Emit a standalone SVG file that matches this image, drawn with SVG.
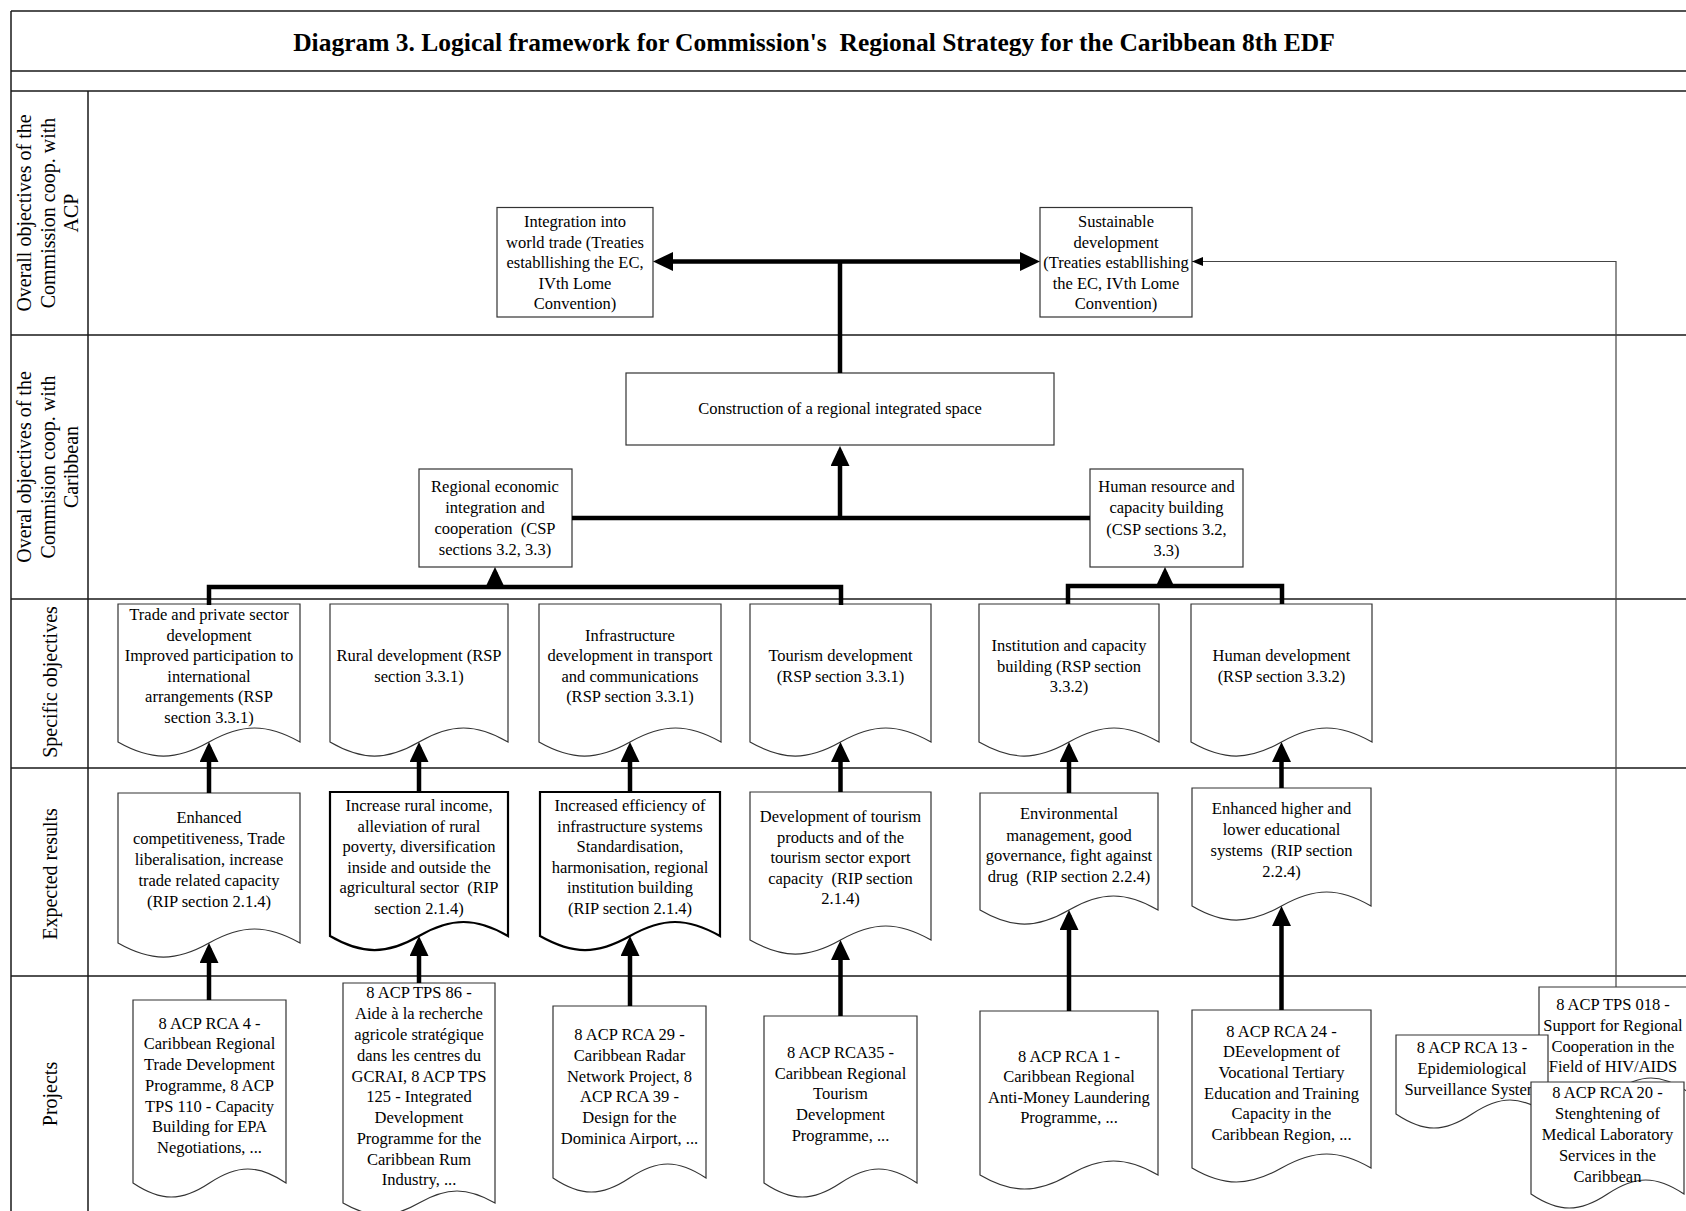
<svg xmlns="http://www.w3.org/2000/svg" width="1686" height="1211" viewBox="0 0 1686 1211">
<style>
.grid{stroke:#1a1a1a;stroke-width:1.5;fill:none}
.box{fill:#fff;stroke:#333;stroke-width:1.2}
.bold{stroke:#000;stroke-width:2.2}
.t{font-family:'Liberation Serif','Times New Roman',serif;font-size:16.5px;text-anchor:middle;fill:#000}
.lbl{font-size:20px}
.title{font-size:25.5px;font-weight:bold}
.thick{stroke:#000;stroke-width:4.5;fill:none;stroke-linejoin:miter}
.thin{stroke:#444;stroke-width:1.2;fill:none}
</style>
<defs>
<marker id="ah" markerUnits="userSpaceOnUse" markerWidth="20" markerHeight="19" viewBox="0 0 20 19" refX="15" refY="9.5" orient="auto-start-reverse"><path d="M0,0L20,9.5L0,19Z" fill="#000"/></marker>
<marker id="ahs" markerUnits="userSpaceOnUse" markerWidth="11" markerHeight="9" viewBox="0 0 11 9" refX="11" refY="4.5" orient="auto"><path d="M0,0L11,4.5L0,9Z" fill="#000"/></marker>
</defs>
<rect width="1686" height="1211" fill="#fff"/>
<g id="grid">
<path class="grid" d="M11,11H1686M11,71H1686M11,91H1686M11,335H1686M11,599H1686M11,768H1686M11,976H1686M11,11V1211M88,91V1211"/>
</g>
<g id="title"><text class="t title" x="814" y="51">Diagram 3. Logical framework for Commission's&#160; Regional Strategy for the Caribbean 8th EDF</text></g>
<g id="row-labels">
<text class="t lbl" transform="translate(0,213) rotate(-90)"><tspan x="0" y="31">Overall objectives of the</tspan><tspan x="0" y="54.5">Commission coop. with</tspan><tspan x="0" y="78">ACP</tspan></text>
<text class="t lbl" transform="translate(0,467) rotate(-90)"><tspan x="0" y="31">Overal objectives of the</tspan><tspan x="0" y="54.5">Commision coop. with</tspan><tspan x="0" y="78">Caribbean</tspan></text>
<text class="t lbl" transform="translate(0,682) rotate(-90)" x="0" y="56.5">Specific objectives</text>
<text class="t lbl" transform="translate(0,874) rotate(-90)" x="0" y="56.5">Expected results</text>
<text class="t lbl" transform="translate(0,1094) rotate(-90)" x="0" y="56.5">Projects</text>
</g>
<g id="n-integration"><rect class="box" x="497" y="207.5" width="156" height="109.5"/>
<text class="t"><tspan x="575" y="227">Integration into</tspan><tspan x="575" y="248">world trade (Treaties</tspan><tspan x="575" y="268">establlishing the EC,</tspan><tspan x="575" y="288.5">IVth Lome</tspan><tspan x="575" y="309">Convention)</tspan></text></g>
<g id="n-sustainable"><rect class="box" x="1040" y="207.5" width="152" height="109.5"/>
<text class="t"><tspan x="1116" y="227">Sustainable</tspan><tspan x="1116" y="248">development</tspan><tspan x="1116" y="268">(Treaties establlishing</tspan><tspan x="1116" y="288.5">the EC, IVth Lome</tspan><tspan x="1116" y="309">Convention)</tspan></text></g>
<g id="n-construction"><rect class="box" x="626" y="373" width="428" height="72"/>
<text class="t" x="840" y="414">Construction of a regional integrated space</text></g>
<g id="n-regional"><rect class="box" x="419" y="469" width="153" height="98"/>
<text class="t"><tspan x="495" y="492">Regional economic</tspan><tspan x="495" y="513">integration and</tspan><tspan x="495" y="534">cooperation&#160; (CSP</tspan><tspan x="495" y="555">sections 3.2, 3.3)</tspan></text></g>
<g id="n-human-resource"><rect class="box" x="1090" y="469" width="153" height="98"/>
<text class="t"><tspan x="1166.5" y="492">Human resource and</tspan><tspan x="1166.5" y="513">capacity building</tspan><tspan x="1166.5" y="535">(CSP sections 3.2,</tspan><tspan x="1166.5" y="556">3.3)</tspan></text></g>
<g id="s-trade"><path class="box" d="M118,604H300V742C267,723.3 242,723.3 209,742C176,760.7 151,760.7 118,742Z"/>
<text class="t"><tspan x="209" y="620">Trade and private sector</tspan><tspan x="209" y="640.5">development</tspan><tspan x="209" y="661">Improved participation to</tspan><tspan x="209" y="681.5">international</tspan><tspan x="209" y="702">arrangements (RSP</tspan><tspan x="209" y="722.5">section 3.3.1)</tspan></text></g>
<g id="s-rural"><path class="box" d="M330,604H508V742C476,723.3 451,723.3 419,742C387,760.7 362,760.7 330,742Z"/>
<text class="t"><tspan x="419" y="661">Rural development (RSP</tspan><tspan x="419" y="681.5">section 3.3.1)</tspan></text></g>
<g id="s-infra"><path class="box" d="M539,604H721V742C688,723.3 663,723.3 630,742C597,760.7 572,760.7 539,742Z"/>
<text class="t"><tspan x="630" y="640.5">Infrastructure</tspan><tspan x="630" y="661">development in transport</tspan><tspan x="630" y="681.5">and communications</tspan><tspan x="630" y="702">(RSP section 3.3.1)</tspan></text></g>
<g id="s-tourism"><path class="box" d="M750,604H931V742C898,723.3 873.5,723.3 840.5,742C807.5,760.7 783,760.7 750,742Z"/>
<text class="t"><tspan x="840.5" y="661">Tourism development</tspan><tspan x="840.5" y="681.5">(RSP section 3.3.1)</tspan></text></g>
<g id="s-institution"><path class="box" d="M979,604H1159V742C1126,723.3 1102,723.3 1069,742C1036,760.7 1012,760.7 979,742Z"/>
<text class="t"><tspan x="1069" y="651">Institution and capacity</tspan><tspan x="1069" y="671.5">building (RSP section</tspan><tspan x="1069" y="692">3.3.2)</tspan></text></g>
<g id="s-human"><path class="box" d="M1191,604H1372V742C1339,723.3 1314.5,723.3 1281.5,742C1248.5,760.7 1224,760.7 1191,742Z"/>
<text class="t"><tspan x="1281.5" y="661">Human development</tspan><tspan x="1281.5" y="681.5">(RSP section 3.3.2)</tspan></text></g>
<g id="r-competitiveness"><path class="box" d="M118,793H300V943C267,924.3 242,924.3 209,943C176,961.7 151,961.7 118,943Z"/>
<text class="t"><tspan x="209" y="823">Enhanced</tspan><tspan x="209" y="844">competitiveness, Trade</tspan><tspan x="209" y="865">liberalisation, increase</tspan><tspan x="209" y="885.5">trade related capacity</tspan><tspan x="209" y="906.5">(RIP section 2.1.4)</tspan></text></g>
<g id="r-rural"><path class="box bold" d="M330,792H508V936C476,917.3 451,917.3 419,936C387,954.7 362,954.7 330,936Z"/>
<text class="t"><tspan x="419" y="811">Increase rural income,</tspan><tspan x="419" y="831.5">alleviation of rural</tspan><tspan x="419" y="852">poverty, diversification</tspan><tspan x="419" y="872.5">inside and outside the</tspan><tspan x="419" y="893">agricultural sector&#160; (RIP</tspan><tspan x="419" y="914">section 2.1.4)</tspan></text></g>
<g id="r-infra"><path class="box bold" d="M540,792H720V936C687,917.3 663,917.3 630,936C597,954.7 573,954.7 540,936Z"/>
<text class="t"><tspan x="630" y="811">Increased efficiency of</tspan><tspan x="630" y="831.5">infrastructure systems</tspan><tspan x="630" y="852">Standardisation,</tspan><tspan x="630" y="872.5">harmonisation, regional</tspan><tspan x="630" y="893">institution building</tspan><tspan x="630" y="914">(RIP section 2.1.4)</tspan></text></g>
<g id="r-tourism"><path class="box" d="M750,792H931V940C898,921.3 873.5,921.3 840.5,940C807.5,958.7 783,958.7 750,940Z"/>
<text class="t"><tspan x="840.5" y="822">Development of tourism</tspan><tspan x="840.5" y="842.5">products and of the</tspan><tspan x="840.5" y="863">tourism sector export</tspan><tspan x="840.5" y="883.5">capacity&#160; (RIP section</tspan><tspan x="840.5" y="904">2.1.4)</tspan></text></g>
<g id="r-environment"><path class="box" d="M980,793H1158V910C1126,891.3 1101,891.3 1069,910C1037,928.7 1012,928.7 980,910Z"/>
<text class="t"><tspan x="1069" y="819">Environmental</tspan><tspan x="1069" y="840.5">management, good</tspan><tspan x="1069" y="861">governance, fight against</tspan><tspan x="1069" y="881.5">drug&#160; (RIP section 2.2.4)</tspan></text></g>
<g id="r-education"><path class="box" d="M1192,788H1371V906C1339,887.3 1314.5,887.3 1281.5,906C1248.5,924.7 1224,924.7 1192,906Z"/>
<text class="t"><tspan x="1281.5" y="814">Enhanced higher and</tspan><tspan x="1281.5" y="835">lower educational</tspan><tspan x="1281.5" y="856">systems&#160; (RIP section</tspan><tspan x="1281.5" y="877">2.2.4)</tspan></text></g>
<g id="p-rca4"><path class="box" d="M133,1000H286V1183C258,1164.3 237.5,1164.3 209.5,1183C181.5,1201.7 161,1201.7 133,1183Z"/>
<text class="t"><tspan x="209.5" y="1028.5">8 ACP RCA 4 -</tspan><tspan x="209.5" y="1049">Caribbean Regional</tspan><tspan x="209.5" y="1070">Trade Development</tspan><tspan x="209.5" y="1090.5">Programme, 8 ACP</tspan><tspan x="209.5" y="1111.5">TPS 110 - Capacity</tspan><tspan x="209.5" y="1132">Building for EPA</tspan><tspan x="209.5" y="1153">Negotiations, ...</tspan></text></g>
<g id="p-tps86"><path class="box" d="M343,983H495V1203C467,1187 447,1187 419,1203C391,1219 371,1219 343,1203Z"/>
<text class="t"><tspan x="419" y="998">8 ACP TPS 86 -</tspan><tspan x="419" y="1019">Aide à la recherche</tspan><tspan x="419" y="1040">agricole stratégique</tspan><tspan x="419" y="1061">dans les centres du</tspan><tspan x="419" y="1081.5">GCRAI, 8 ACP TPS</tspan><tspan x="419" y="1102">125 - Integrated</tspan><tspan x="419" y="1123">Development</tspan><tspan x="419" y="1144">Programme for the</tspan><tspan x="419" y="1164.5">Caribbean Rum</tspan><tspan x="419" y="1185">Industry, ...</tspan></text></g>
<g id="p-rca29"><path class="box" d="M553,1006H706V1178C678,1159.3 657.5,1159.3 629.5,1178C601.5,1196.7 581,1196.7 553,1178Z"/>
<text class="t"><tspan x="629.5" y="1040">8 ACP RCA 29 -</tspan><tspan x="629.5" y="1061">Caribbean Radar</tspan><tspan x="629.5" y="1081.5">Network Project, 8</tspan><tspan x="629.5" y="1102">ACP RCA 39 -</tspan><tspan x="629.5" y="1123">Design for the</tspan><tspan x="629.5" y="1144">Dominica Airport, ...</tspan></text></g>
<g id="p-rca35"><path class="box" d="M764,1016H917V1183C889,1164.3 868.5,1164.3 840.5,1183C812.5,1201.7 792,1201.7 764,1183Z"/>
<text class="t"><tspan x="840.5" y="1058">8 ACP RCA35 -</tspan><tspan x="840.5" y="1078.5">Caribbean Regional</tspan><tspan x="840.5" y="1099">Tourism</tspan><tspan x="840.5" y="1120">Development</tspan><tspan x="840.5" y="1140.5">Programme, ...</tspan></text></g>
<g id="p-rca1"><path class="box" d="M980,1011H1158V1175C1126,1156.3 1101,1156.3 1069,1175C1037,1193.7 1012,1193.7 980,1175Z"/>
<text class="t"><tspan x="1069" y="1061.5">8 ACP RCA 1 -</tspan><tspan x="1069" y="1082">Caribbean Regional</tspan><tspan x="1069" y="1102.5">Anti-Money Laundering</tspan><tspan x="1069" y="1123">Programme, ...</tspan></text></g>
<g id="p-rca24"><path class="box" d="M1192,1010H1371V1168C1339,1149.3 1314.5,1149.3 1281.5,1168C1248.5,1186.7 1224,1186.7 1192,1168Z"/>
<text class="t"><tspan x="1281.5" y="1036.5">8 ACP RCA 24 -</tspan><tspan x="1281.5" y="1057">DEevelopment of</tspan><tspan x="1281.5" y="1078">Vocational Tertiary</tspan><tspan x="1281.5" y="1098.5">Education and Training</tspan><tspan x="1281.5" y="1119">Capacity in the</tspan><tspan x="1281.5" y="1139.5">Caribbean Region, ...</tspan></text></g>
<g id="p-tps018"><path class="box" d="M1539,987H1688V1092C1661,1073.3 1641,1073.3 1613.5,1092C1586,1110.7 1566,1110.7 1539,1092Z"/>
<text class="t"><tspan x="1613" y="1010">8 ACP TPS 018 -</tspan><tspan x="1613" y="1031">Support for Regional</tspan><tspan x="1613" y="1051.5">Cooperation in the</tspan><tspan x="1613" y="1072">Field of HIV/AIDS</tspan></text></g>
<g id="p-rca13"><path class="box" d="M1396,1035H1548V1114C1520,1095.3 1500,1095.3 1472,1114C1444,1132.7 1424,1132.7 1396,1114Z"/>
<text class="t"><tspan x="1472" y="1053">8 ACP RCA 13 -</tspan><tspan x="1472" y="1074">Epidemiological</tspan><tspan x="1472" y="1094.5">Surveillance System</tspan></text></g>
<g id="p-rca20"><path class="box" d="M1531,1082H1684V1194C1656,1175.3 1635.5,1175.3 1607.5,1194C1579.5,1212.7 1559,1212.7 1531,1194Z"/>
<text class="t"><tspan x="1607.5" y="1098">8 ACP RCA 20 -</tspan><tspan x="1607.5" y="1119">Stenghtening of</tspan><tspan x="1607.5" y="1140">Medical Laboratory</tspan><tspan x="1607.5" y="1161">Services in the</tspan><tspan x="1607.5" y="1182">Caribbean</tspan></text></g>
<g id="connectors">
<path class="thick" d="M658,261.5H1035" marker-start="url(#ah)" marker-end="url(#ah)"/>
<path class="thick" d="M840,261.5V373"/>
<path class="thick" d="M840,518V451" marker-end="url(#ah)"/>
<path class="thick" d="M572,518H1090"/>
<path class="thick" d="M495,587V572" marker-end="url(#ah)"/>
<path class="thick" d="M209,605V587H841V605"/>
<path class="thick" d="M1068,604V586H1282V604"/>
<path class="thick" d="M1165,586V572" marker-end="url(#ah)"/>
<path class="thick" d="M209,793V747" marker-end="url(#ah)"/>
<path class="thick" d="M419,792V747" marker-end="url(#ah)"/>
<path class="thick" d="M630,792V747" marker-end="url(#ah)"/>
<path class="thick" d="M840.5,792V747" marker-end="url(#ah)"/>
<path class="thick" d="M1069,793V747" marker-end="url(#ah)"/>
<path class="thick" d="M1281.5,788V747" marker-end="url(#ah)"/>
<path class="thick" d="M209,1000V948" marker-end="url(#ah)"/>
<path class="thick" d="M419,983V941" marker-end="url(#ah)"/>
<path class="thick" d="M630,1006V941" marker-end="url(#ah)"/>
<path class="thick" d="M840.5,1016V945" marker-end="url(#ah)"/>
<path class="thick" d="M1069,1011V915" marker-end="url(#ah)"/>
<path class="thick" d="M1281.5,1010V911" marker-end="url(#ah)"/>
<path class="thin" d="M1616,987V261.5H1192" marker-end="url(#ahs)"/>
</g>
</svg>
